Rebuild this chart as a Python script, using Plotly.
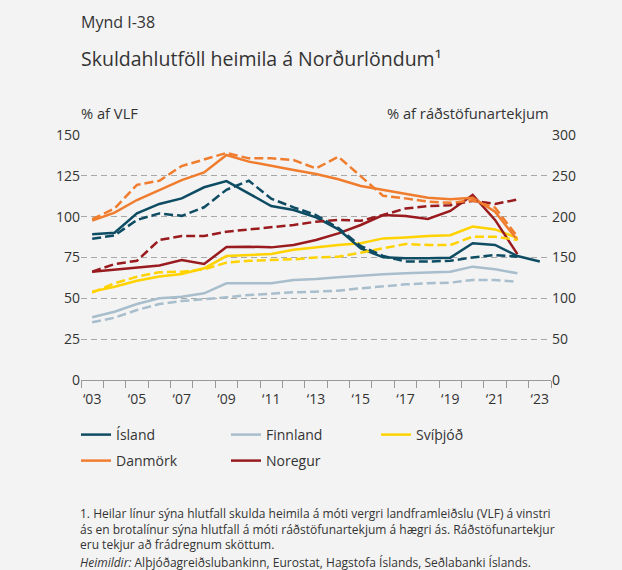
import plotly.graph_objects as go

years = list(range(2003, 2024))
tick_years = list(range(2003, 2024, 2))
tick_text = ["\u2018" + str(y)[2:] for y in tick_years]

# solid = % of GDP (left axis), dashed = % of disposable income (right axis)
island_vlf = [89.2, 90.2, 102.1, 107.8, 111.2, 118.0, 121.8, 114.0, 106.5, 104.1, 99.6,
              92.2, 80.6, 75.1, 74.5, 74.5, 74.9, 83.7, 82.7, 75.9, 72.5]
island_rt = [173, 177, 196, 204, 201, 211.5, 233, 244, 222, 211.4, 202,
             186, 164, 152, 145, 145, 146, 150, 153, 151, None]

danmork_vlf = [97.6, 102.5, 110.2, 116.3, 122.4, 127.1, 137.8, 133.7, 131.0, 128.6, 126.1,
               122.9, 118.8, 116.5, 113.9, 111.6, 110.6, 111.6, 103.0, 85.7, None]
danmork_rt = [197, 210, 239, 244, 262, 270, 278, 271.4, 271.4, 269.4, 259,
              273.4, 249, 225.5, 222.4, 218.4, 217, 220, 211, 175.5, None]

finnland_vlf = [38.4, 41.8, 46.5, 50.0, 51.0, 53.1, 59.2, 59.2, 59.2, 61.2, 61.8,
                62.9, 63.9, 64.7, 65.3, 65.7, 66.3, 69.4, 67.8, 65.3, None]
finnland_rt = [70.6, 76.3, 85.7, 93, 96.7, 98.8, 101.3, 104.1, 106.1, 107.4, 108.2,
               109.4, 112.3, 115.1, 117.1, 118.4, 119.2, 122.4, 122.4, 120.4, None]

noregur_vlf = [66.3, 67.5, 68.7, 70.1, 73.5, 71.0, 81.4, 81.6, 81.2, 82.7, 85.7,
               89.8, 94.9, 101.0, 100.4, 98.6, 103.5, 113.3, 98.0, 77.1, None]
noregur_rt = [132.6, 142, 146, 171.4, 176.3, 176.3, 181.6, 184.5, 187, 189.8, 193.9,
              196, 195, 202, 210, 213, 214, 219.6, 215.5, 221, None]

svithjod_vlf = [54.1, 57.1, 60.8, 63.3, 64.9, 68.4, 75.9, 76.5, 77.1, 79.8, 81.4,
                82.7, 83.7, 86.7, 87.3, 88.2, 88.6, 93.9, 92.2, 87.0, None]
svithjod_rt = [107, 118.4, 126.5, 131.9, 132.6, 135.5, 143.7, 146, 147, 147.8, 150,
               151, 155.9, 161.3, 166.5, 165.3, 165.3, 175.5, 175.5, 171.4, None]

series = [
    # name, solid, dashed, colour, legend, rank
    ("Finnland", finnland_vlf, finnland_rt, "#A8BECC", "legend", 2),
    ("Svíþjóð", svithjod_vlf, svithjod_rt, "#FFD200", "legend", 3),
    ("Noregur", noregur_vlf, noregur_rt, "#991B1E", "legend2", 2),
    ("Danmörk", danmork_vlf, danmork_rt, "#F07D2E", "legend2", 1),
    ("Ísland", island_vlf, island_rt, "#0E4C63", "legend", 1),
]

footnote = ("1. Heilar línur sýna hlutfall skulda heimila á móti vergri landframleiðslu (VLF) á vinstri<br>"
            "ás en brotalínur sýna hlutfall á móti ráðstöfunartekjum á hægri ás. Ráðstöfunartekjur<br>"
            "eru tekjur að frádregnum sköttum.")
source = "<i>Heimildir:</i> Alþjóðagreiðslubankinn, Eurostat, Hagstofa Íslands, Seðlabanki Íslands."

bg = "#F3F3F3"
txt = "#333333"
font = "Open Sans"

fig = go.Figure()
for name, vlf, rt, col, leg, rank in series:
    fig.add_trace(go.Scatter(
        x=years, y=rt, name=name, mode="lines", yaxis="y2",
        line=dict(color=col, width=2.5, dash="9px,4px"),
        showlegend=False, connectgaps=False,
    ))
    fig.add_trace(go.Scatter(
        x=years, y=vlf, name=name, mode="lines",
        line=dict(color=col, width=2.5),
        legend=leg, legendrank=rank,
    ))

# plot area in pixels: x 81..551, y 135..380
def py(p):
    return (380 - p) / 245

def px(p):
    return (p - 81) / 470

annots = [
    dict(text="Mynd I-38", x=px(79), y=py(22), size=16),
    dict(text="Skuldahlutföll heimila á Norðurlöndum¹", x=px(79), y=py(58), size=19.5),
    dict(text="% af VLF", x=px(79), y=py(113), size=14.7),
    dict(text=footnote, x=px(78), y=py(529), size=12),
    dict(text=source, x=px(78), y=py(562), size=12),
]
for a in annots:
    fig.add_annotation(text=a["text"], x=a["x"], y=a["y"], xref="paper", yref="paper",
                       xanchor="left", yanchor="middle", align="left", showarrow=False,
                       font=dict(size=a["size"], color=txt, family=font))
fig.add_annotation(text="% af ráðstöfunartekjum", x=px(551), y=py(113), xref="paper", yref="paper",
                   xanchor="right", yanchor="middle", showarrow=False,
                   font=dict(size=14.7, color=txt, family=font))

fig.update_layout(
    width=622, height=570, autosize=False,
    margin=dict(l=81, r=71, t=135, b=190),
    paper_bgcolor=bg, plot_bgcolor=bg,
    font=dict(family=font, color=txt, size=14),
    xaxis=dict(
        range=[2002.5, 2023.5], tickmode="array", tickvals=tick_years, ticktext=tick_text,
        ticks="", showline=True, linecolor="#999999", linewidth=1,
        showgrid=False, zeroline=False, ticklabelstandoff=6, automargin=False,
        minor=dict(tickmode="array", tickvals=[y - 0.5 for y in years] + [2023.5],
                   ticks="outside", ticklen=7, tickcolor="#999999", showgrid=False),
    ),
    yaxis=dict(
        range=[0, 150], tickmode="array", tickvals=list(range(0, 151, 25)),
        showgrid=True, gridcolor="#A8A8A8", griddash="6px,4px", gridwidth=1,
        zeroline=False, showline=False, ticks="", automargin=False,
    ),
    yaxis2=dict(
        range=[0, 300], tickmode="array", tickvals=list(range(0, 301, 50)),
        overlaying="y", side="right", showgrid=False, zeroline=False, ticks="",
        automargin=False,
    ),
    legend=dict(orientation="h", xref="container", yref="container",
                x=76 / 622, y=1 - 435 / 570, xanchor="left", yanchor="middle",
                entrywidth=105, bgcolor="rgba(0,0,0,0)", font=dict(size=14)),
    legend2=dict(orientation="h", xref="container", yref="container",
                 x=76 / 622, y=1 - 461 / 570, xanchor="left", yanchor="middle",
                 entrywidth=105, bgcolor="rgba(0,0,0,0)", font=dict(size=14)),
    showlegend=True,
)

# drop the default page margin so the figure sits at the window's top-left corner
fig.write_html("out.html", config={"displayModeBar": False},
               post_script="document.body.style.margin='0';")
